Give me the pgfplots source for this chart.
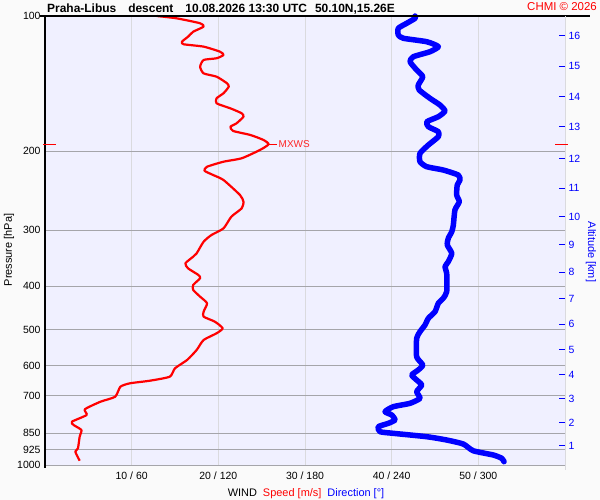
\documentclass[border=0pt]{standalone}
\usepackage{fontspec}
\setmainfont{Liberation Sans}
\usepackage{pgfplots}
\pgfplotsset{compat=1.18}
\usepackage{pgfplotstable}
\definecolor{lav}{RGB}{240,240,255}
\definecolor{outer}{RGB}{250,250,250}
\definecolor{gridy}{RGB}{165,165,170}
\definecolor{gridx}{RGB}{218,218,222}
\definecolor{wblue}{RGB}{0,0,255}
\definecolor{wred}{RGB}{255,0,0}

% speed [m/s] vs pressure [hPa]
\pgfplotstableread{
p s
100.0 12.9
101.2 15.2
103.8 17.9
105.6 18.3
108.4 17.1
111.2 16.5
114.1 15.8
115.6 16.0
117.0 18.3
120.1 20.2
122.1 20.6
124.2 19.8
125.3 18.3
129.7 17.9
134.2 18.3
136.5 19.8
141.2 21.0
143.7 21.2
148.6 20.6
152.5 19.8
156.5 19.8
160.6 21.4
164.7 22.7
167.6 22.9
173.4 22.1
176.4 21.4
180.3 21.7
184.1 23.7
188.8 25.2
193.1 25.8
198.8 24.8
207.4 22.7
211.1 20.6
216.6 18.7
221.1 18.4
226.0 19.4
231.9 20.6
250.4 22.5
259.2 22.9
268.1 22.7
279.9 21.5
297.1 20.6
307.5 19.2
318.2 18.3
337.7 17.5
343.6 17.1
355.4 16.2
364.7 16.5
377.4 17.7
383.8 17.9
397.2 17.1
407.5 17.1
421.8 17.9
436.3 18.7
455.5 18.3
467.3 18.3
479.5 19.6
496.0 20.5
508.9 19.8
526.7 18.3
554.3 17.5
583.5 16.4
608.9 15.0
635.7 14.4
649.0 12.1
657.7 9.8
669.3 8.7
704.5 8.1
722.8 6.4
751.5 4.6
773.8 4.8
800.8 3.1
814.5 3.3
835.7 4.2
864.9 4.0
918.2 3.8
934.0 3.5
978.2 4.0
}\speedtab

% direction [deg] vs pressure [hPa]
\pgfplotstableread{
p d
100.0 256.2
101.2 256.2
103.8 250.4
106.5 244.6
110.2 244.6
112.1 248.1
114.1 264.3
117.0 272.3
120.1 266.5
123.2 255.0
126.4 252.7
131.9 257.3
136.5 261.5
142.5 258.4
146.2 259.1
152.5 266.5
157.9 273.5
162.8 276.9
167.6 272.3
172.0 264.3
176.4 265.4
181.0 272.3
185.7 272.3
193.8 265.4
202.2 259.6
211.1 259.6
216.6 264.3
220.3 275.7
226.0 286.1
231.9 287.3
237.9 285.4
250.4 285.0
259.2 286.8
270.4 283.8
292.1 282.7
302.3 281.6
312.7 279.2
323.6 278.5
337.7 281.6
352.5 279.2
361.7 276.9
374.2 278.1
411.1 278.1
425.2 275.7
436.3 272.3
455.5 270.0
471.2 265.4
487.6 263.1
504.8 259.6
522.2 257.3
574.1 257.3
598.7 261.5
614.3 258.4
630.2 253.9
646.7 257.3
663.5 260.8
686.7 257.3
710.3 259.6
728.8 252.7
741.6 241.1
760.8 235.4
773.8 240.0
794.0 242.3
807.5 237.7
821.7 230.7
843.0 231.9
850.0 241.1
864.9 264.3
879.7 278.1
898.0 289.6
929.6 296.5
950.0 310.4
966.2 316.2
983.2 317.8
}\dirtab

\begin{document}
\begin{tikzpicture}
\fill[outer] (0,0) rectangle (600bp,500bp);
\begin{axis}[
  at={(45bp,35bp)}, anchor=south west,
  width=520bp, height=449bp, scale only axis,
  xmin=0, xmax=60,
  ymode=log, y dir=reverse, ymin=100, ymax=1000,
  axis background/.style={fill=lav},
  axis line style={draw=none},
  xtick={10,20,30,40,50},
  xticklabels={10 / 60, 20 / 120, 30 / 180, 40 / 240, 50 / 300},
  ytick={100,200,300,400,500,600,700,850,925,1000},
  yticklabels={100,200,300,400,500,600,700,850,925,1000},
  yminorticks=false, xminorticks=false,
  major tick length=0pt,
  xmajorgrids, ymajorgrids,
  x grid style={draw=gridx, line width=0.8bp},
  y grid style={draw=gridy, line width=0.8bp},
  ticklabel style={font=\fontsize{10.5}{12}\selectfont, text=black},
  xticklabel style={yshift=-3bp},
  yticklabel style={xshift=-1bp},
  clip=false,
]
\addplot[wred, line width=2.2bp, line join=round, smooth, tension=0.35] table[x=s, y=p] {\speedtab};
\end{axis}
\begin{axis}[
  at={(45bp,35bp)}, anchor=south west,
  width=520bp, height=449bp, scale only axis,
  xmin=0, xmax=360,
  ymode=log, y dir=reverse, ymin=100, ymax=1000,
  axis x line=none,
  axis y line*=right,
  y axis line style={draw=none},
  ytick={905.9,805.1,711.7,629.2,554.3,486.1,426.1,372.2,323.6,279.9,241.6,207.8,176.4,151.2,129.4,110.6},
  yticklabels={1,2,3,4,5,6,7,8,9,10,11,12,13,14,15,16},
  yminorticks=false,
  major tick length=6bp, tick align=inside,
  ytick style={wblue, line width=1bp},
  yticklabel style={font=\fontsize{10.5}{12}\selectfont, text=wblue, xshift=0bp},
  clip=false,
]
\addplot[wblue, line width=5.5bp, line join=round, line cap=round, smooth, tension=0.35] table[x=d, y=p] {\dirtab};
\end{axis}
% frame lines
\draw[black, line width=1.2bp] (40bp,484bp) -- (590bp,484bp);
\draw[black, line width=1.2bp] (45bp,484bp) -- (45bp,32bp);
\draw[gridx, line width=0.8bp] (565bp,484bp) -- (565bp,30bp);
% MXWS marks
\draw[wred, line width=0.9bp] (43bp,356bp) -- (56bp,356bp);
\draw[wred, line width=0.9bp] (555bp,356bp) -- (568bp,356bp);
\draw[wred, line width=0.8bp] (269bp,356bp) -- (277bp,356bp);
\node[anchor=west, inner sep=1.5bp, font=\fontsize{10}{12}\selectfont, text=wred!85] at (277bp,356bp) {MXWS};
% texts
\node[anchor=base west, inner sep=0, font=\bfseries\fontsize{12}{14}\selectfont] at (47bp,487bp)
  {Praha-Libus\hspace{12bp}descent\hspace{12bp}10.08.2026 13:30 UTC\hspace{8bp}50.10N,15.26E};
\node[anchor=base east, inner sep=0, text=wred, font=\fontsize{11.5}{14}\selectfont] at (597bp,489bp) {CHMI © 2026};
\node[anchor=base, inner sep=0, font=\fontsize{11}{13}\selectfont] at (306bp,4bp)
  {WIND\hspace{6bp}\textcolor{wred}{Speed [m/s]}\hspace{6bp}\textcolor{wblue}{Direction [°]}};
\node[rotate=90, inner sep=0, font=\fontsize{11}{13}\selectfont] at (9bp,250bp) {Pressure [hPa]};
\node[rotate=-90, inner sep=0, text=wblue, font=\fontsize{11}{13}\selectfont] at (591bp,248bp) {Altitude [km]};
\end{tikzpicture}
\end{document}
